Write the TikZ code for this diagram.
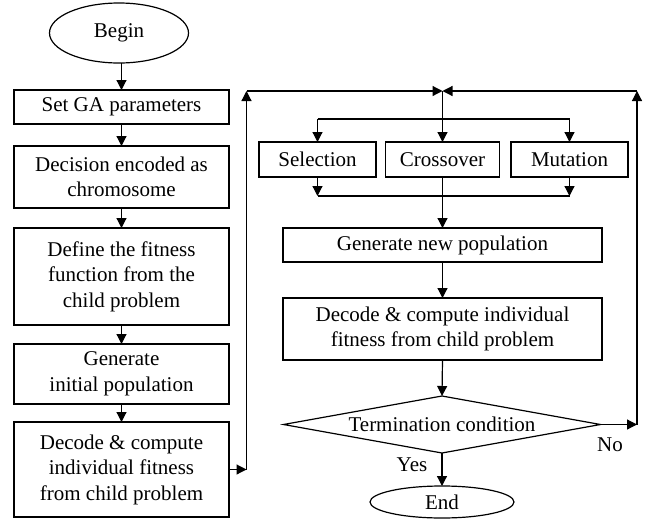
\documentclass[tikz,border=0pt]{standalone}
\usepackage{fontspec}
\setmainfont{Liberation Serif}
\usetikzlibrary{arrows.meta,shapes.geometric}
\begin{document}
\begin{tikzpicture}[x=1pt,y=-1pt,
  every node/.style={font=\fontsize{21}{25.5}\selectfont, inner sep=0pt, outer sep=0pt, align=center},
  box/.style={draw, line width=1.2pt, rectangle},
  lbox/.style={box, minimum width=215pt},
  oval/.style={draw, line width=1.2pt, ellipse},
  diaarea/.style={rectangle, minimum width=317pt, minimum height=57pt},
  ln/.style={line width=1.2pt},
  arr/.style={line width=1.2pt, -{Triangle[length=10pt,width=10pt]}},
  lbl/.style={font=\fontsize{21}{25.5}\selectfont}]
\useasboundingbox (0,0) rectangle (646,520);
% left column
\node[oval, minimum width=139pt, minimum height=60pt] (begin) at (119,33) {Begin};
\node[lbox, minimum height=34pt] (set) at (121.5,107) {Set GA parameters};
\node[lbox, minimum height=62pt] (dec) at (121.5,177) {Decision encoded as\\chromosome};
\node[lbox, minimum height=97pt] (def) at (121.5,276.5) {Define the fitness\\function from the\\child problem};
\node[lbox, minimum height=60pt] (gen) at (121.5,374) {Generate\\initial population};
\node[lbox, minimum height=95pt] (dcd) at (121.5,469.5) {Decode \& compute\\individual fitness\\from child problem};
% right column
\node[box, minimum width=117pt, minimum height=35pt] (sel) at (317.5,159.5) {Selection};
\node[box, minimum width=114pt, minimum height=35pt] (cro) at (442.5,159.5) {Crossover};
\node[box, minimum width=117pt, minimum height=35pt] (mut) at (569.5,159.5) {Mutation};
\node[box, minimum width=319pt, minimum height=34pt] (gnp) at (442.5,245) {Generate new population};
\node[box, minimum width=319pt, minimum height=62pt] (dc2) at (442.5,329) {Decode \& compute individual\\fitness from child problem};
\node[diaarea] (term) at (442,424.5) {Termination condition};
\draw[ln, line join=miter] (term.west) -- (term.north) -- (term.east) -- (term.south) -- cycle;
\node[oval, minimum width=144pt, minimum height=32pt] (end) at (442,502) {End};
% helper coordinates
\coordinate (L2) at (246.5,91);
\coordinate (T) at (442.5,91);
\coordinate (R2) at (637,91);
\coordinate (B) at (442.5,119);
\coordinate (M) at (442.5,196);
% left chain
\draw[arr] (begin.south -| set.north) -- (set.north);
\draw[arr] (set) -- (dec);
\draw[arr] (dec) -- (def);
\draw[arr] (def) -- (gen);
\draw[arr] (gen) -- (dcd);
% loop to top
\draw[arr] (dcd.east) -- (dcd.east -| L2);
\draw[arr] (dcd.east -| L2) -- (L2);
\draw[arr] (L2) -- (T);
\draw[arr] (term.east) -- (term.east -| R2);
\draw[arr] (term.east -| R2) -- (R2);
\draw[arr] (R2) -- (T);
% branch
\draw[ln] (T) -- (B);
\draw[ln] (sel.north |- B) -- (mut.north |- B);
\draw[arr] (sel.north |- B) -- (sel.north);
\draw[arr] (B) -- (cro.north);
\draw[arr] (mut.north |- B) -- (mut.north);
% merge
\draw[arr] (sel.south) -- (sel.south |- M);
\draw[arr] (mut.south) -- (mut.south |- M);
\draw[ln] (sel.south |- M) -- (mut.south |- M);
\draw[arr] (cro.south) -- (gnp.north);
\draw[arr] (gnp) -- (dc2);
\draw[arr] (dc2.south) -- (term.north);
\draw[arr] (term.south) -- (end.north);
% labels
\node[lbl] (yes) at (412,465) {Yes};
\node[lbl] (no) at (610,445) {No};
\end{tikzpicture}
\end{document}
